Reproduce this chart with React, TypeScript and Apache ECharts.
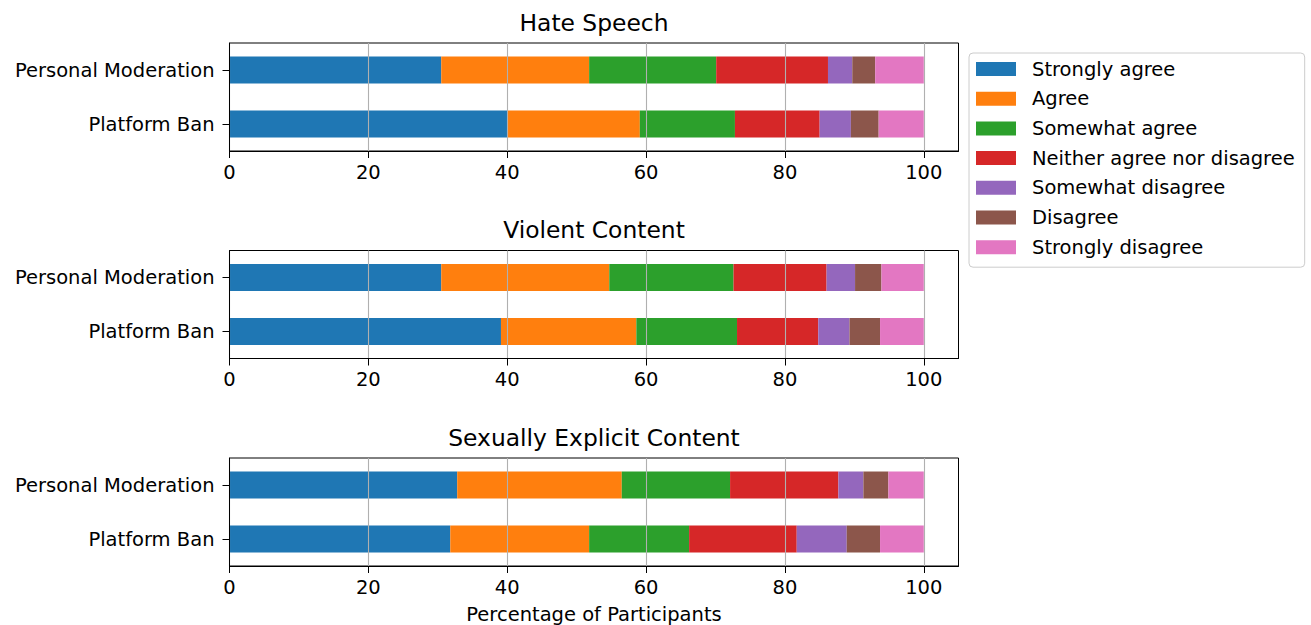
import React, { useEffect, useRef } from "react";
import * as echarts from "echarts";

const categories = ["Personal Moderation", "Platform Ban"];
const responses = [
  "Strongly agree",
  "Agree",
  "Somewhat agree",
  "Neither agree nor disagree",
  "Somewhat disagree",
  "Disagree",
  "Strongly disagree",
];
const panelTitles = ["Hate Speech", "Violent Content", "Sexually Explicit Content"];
const xTicks = [0, 20, 40, 60, 80, 100];

// values per response: [Personal Moderation, Platform Ban]
const hateSpeechPM = [30.5, 21.3, 18.3, 16.1, 3.5, 3.3, 7.0];
const hateSpeechPB = [40.0, 19.1, 13.7, 12.2, 4.5, 4.0, 6.5];
const violentPM = [30.5, 24.2, 17.9, 13.4, 4.1, 3.8, 6.1];
const violentPB = [39.1, 19.5, 14.5, 11.7, 4.5, 4.4, 6.3];
const sexualPM = [32.8, 23.7, 15.6, 15.6, 3.6, 3.6, 5.1];
const sexualPB = [31.8, 20.0, 14.4, 15.5, 7.2, 4.8, 6.3];

const panelData = [
  [hateSpeechPM, hateSpeechPB],
  [violentPM, violentPB],
  [sexualPM, sexualPB],
];

const colors = ["#1f77b4", "#ff7f0e", "#2ca02c", "#d62728", "#9467bd", "#8c564b", "#e377c2"];

const FONT = "DejaVu Sans";
const FS = 19.5;

export default function App() {
  const ref = useRef<HTMLDivElement>(null);
  useEffect(() => {
    if (!ref.current) return;
    const chart = echarts.init(ref.current, null, { renderer: "svg" });
    const gridTops = [43, 250.5, 458];
    const gridLeft = 229.5;
    const gridWidth = 729;
    const gridHeight = 108;
    const grids = gridTops.map((t) => ({
      left: gridLeft,
      top: t,
      width: gridWidth,
      height: gridHeight,
      show: true,
      borderColor: "#000",
      borderWidth: 1,
      containLabel: false,
    }));
    const xAxes = gridTops.map((_, i) => ({
      type: "value",
      gridIndex: i,
      min: 0,
      max: 105,
      interval: 20,
      z: 5,
      axisLine: { show: true, lineStyle: { color: "#000", width: 1 } },
      axisTick: { show: true, length: 7, lineStyle: { color: "#000", width: 1 }, customValues: xTicks },
      axisLabel: { show: true, margin: 11, color: "#000", fontSize: FS, fontFamily: FONT, customValues: xTicks },
      splitLine: { show: true, lineStyle: { color: "#b0b0b0", width: 1.1 } },
    }));
    const yAxes = gridTops.map((_, i) => ({
      type: "category",
      gridIndex: i,
      data: categories,
      inverse: true,
      z: 5,
      axisLine: { show: true, lineStyle: { color: "#000", width: 1 } },
      axisTick: { show: true, alignWithLabel: true, length: 7, lineStyle: { color: "#000", width: 1 } },
      axisLabel: { margin: 15, color: "#000", fontSize: FS, fontFamily: FONT },
      splitLine: { show: false },
    }));
    const series: any[] = [];
    panelData.forEach((pd, gi) => {
      responses.forEach((name, ri) => {
        series.push({
          type: "bar",
          name,
          xAxisIndex: gi,
          yAxisIndex: gi,
          stack: "panel" + gi,
          barWidth: "50%",
          z: 1,
          itemStyle: { color: colors[ri] },
          data: [pd[0][ri], pd[1][ri]],
        });
      });
    });
    const centerX = gridLeft + gridWidth / 2;
    const titleYs = [22.5, 230, 437.5];
    const graphics: any[] = panelTitles.map((t, i) => ({
      type: "text",
      x: centerX,
      y: titleYs[i],
      style: {
        text: t,
        font: `23.4px "${FONT}"`,
        fill: "#000",
        align: "center",
        verticalAlign: "middle",
      },
    }));
    graphics.push({
      type: "text",
      x: centerX,
      y: 614,
      style: {
        text: "Percentage of Participants",
        font: `${FS}px "${FONT}"`,
        fill: "#000",
        align: "center",
        verticalAlign: "middle",
      },
    });
    chart.setOption({
      animation: false,
      backgroundColor: "#fff",
      color: colors,
      grid: grids,
      xAxis: xAxes,
      yAxis: yAxes,
      series,
      graphic: graphics,
      legend: {
        data: responses,
        orient: "vertical",
        left: 969,
        top: 53,
        itemWidth: 40,
        itemHeight: 14,
        itemGap: 9.7,
        icon: "rect",
        padding: [6, 10, 10, 7],
        borderColor: "#cccccc",
        borderWidth: 1,
        borderRadius: 4,
        backgroundColor: "#fff",
        selectedMode: false,
        textStyle: {
          fontSize: FS,
          fontFamily: FONT,
          color: "#000",
          lineHeight: 20,
          padding: [0, 0, 0, 11],
        },
      },
    });
    return () => chart.dispose();
  }, []);
  return (
    <div
      ref={ref}
      style={{ position: "absolute", left: 0, top: 0, width: 1311, height: 625 }}
    />
  );
}
